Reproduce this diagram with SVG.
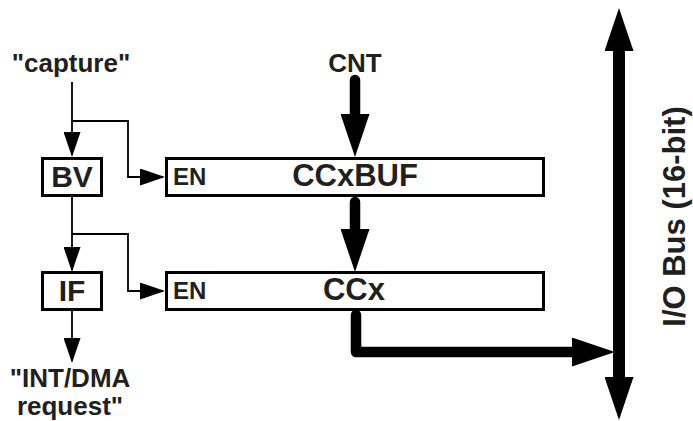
<svg xmlns="http://www.w3.org/2000/svg" width="693" height="421" viewBox="0 0 693 421">
<style>
text{font-family:"Liberation Sans",Arial,sans-serif;font-weight:bold;fill:#231f20}
.lbl{font-size:26px;text-anchor:middle}
.big{font-size:30px;text-anchor:middle}
.en{font-size:24px}
.box{fill:#fff;stroke:#000;stroke-width:3}
.thin{fill:none;stroke:#000;stroke-width:1.8}
.thick{fill:none;stroke:#000;stroke-width:10.5;stroke-linecap:round;stroke-linejoin:round}
.bus{fill:none;stroke:#000;stroke-width:12}
</style>
<defs>
<marker id="ah" markerUnits="userSpaceOnUse" markerWidth="25" markerHeight="17" refX="23" refY="8.5" orient="auto"><path d="M0,0 L25,8.5 L0,17 Z" fill="#000"/></marker>
<marker id="AH" markerUnits="userSpaceOnUse" markerWidth="43" markerHeight="29" refX="13" refY="14.5" orient="auto-start-reverse"><path d="M0,0 L43,14.5 L0,29 Z" fill="#000"/></marker>
</defs>
<g id="connectors">
<path class="thin" d="M72,82 V155" marker-end="url(#ah)"/>
<path class="thin" d="M72,121 H128 V177 H163" marker-end="url(#ah)"/>
<path class="thin" d="M72,197 V270" marker-end="url(#ah)"/>
<path class="thin" d="M72,234 H128 V291 H163" marker-end="url(#ah)"/>
<path class="thin" d="M72,310 V361" marker-end="url(#ah)"/>
<path class="thick" d="M355,80 V127" marker-end="url(#AH)"/>
<path class="thick" d="M355,202 V242" marker-end="url(#AH)"/>
<path class="thick" d="M356,315 V352 H585" marker-end="url(#AH)"/>
<path class="bus" d="M619,38 V390" marker-start="url(#AH)" marker-end="url(#AH)"/>
</g>
<g id="capture"><text class="lbl" x="71" y="72">"capture"</text></g>
<g id="cnt"><text class="lbl" x="355" y="72">CNT</text></g>
<g id="bv"><rect class="box" x="42.5" y="158.5" width="59" height="37"/><text class="big" x="72" y="187">BV</text></g>
<g id="if"><rect class="box" x="42.5" y="272.5" width="59" height="37"/><text class="big" x="72" y="301">IF</text></g>
<g id="ccxbuf"><rect class="box" x="166.5" y="158.5" width="377" height="37"/><text class="en" x="173" y="185">EN</text><text class="big" x="355" y="186" style="font-size:31px">CCxBUF</text></g>
<g id="ccx"><rect class="box" x="166.5" y="272.5" width="377" height="37"/><text class="en" x="173" y="299">EN</text><text class="big" x="354" y="300" style="font-size:31px">CCx</text></g>
<g id="intdma"><text class="lbl" x="70" y="387">"INT/DMA</text><text class="lbl" x="70" y="415">request"</text></g>
<g id="iobus"><text class="big" transform="translate(685,216.5) rotate(-90)" style="font-size:31px">I/O Bus (16-bit)</text></g>
</svg>
